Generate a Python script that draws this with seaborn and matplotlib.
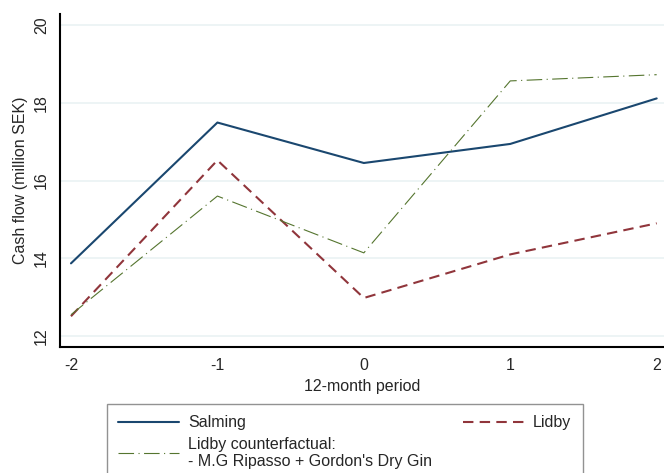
import matplotlib
matplotlib.use("Agg")
import matplotlib.pyplot as plt
import pandas as pd
import seaborn as sns

# Data
periods = [-2, -1, 0, 1, 2]
salming = [13.87, 17.49, 16.45, 16.94, 18.11]
lidby = [12.51, 16.52, 12.98, 14.10, 14.90]
counterfactual = [12.55, 15.60, 14.14, 18.56, 18.72]

series_names = ["Salming", "Lidby",
                "Lidby counterfactual:\n- M.G Ripasso + Gordon's Dry Gin"]
y_ticks = [12, 14, 16, 18, 20]

sns.set_style("white")
plt.rcParams["font.family"] = ["Liberation Sans", "DejaVu Sans"]
plt.rcParams["font.size"] = 11.5

df = pd.DataFrame({"period": periods * 3,
                   "value": salming + lidby + counterfactual,
                   "series": [series_names[0]] * 5 + [series_names[1]] * 5 + [series_names[2]] * 5})

fig = plt.figure(figsize=(6.64, 4.73), dpi=100)
ax = fig.add_axes([60 / 664, 1 - 347 / 473, 604 / 664, 333 / 473])

styles = {
    series_names[0]: dict(color="#1a476f", linewidth=1.5, linestyle="-"),
    series_names[1]: dict(color="#90353b", linewidth=1.5, linestyle=(0, (5, 3))),
    series_names[2]: dict(color="#55752f", linewidth=0.8, linestyle=(0, (14, 4, 1, 4))),
}
for name in series_names:
    sns.lineplot(data=df[df["series"] == name], x="period", y="value",
                 ax=ax, label=name, **styles[name])

ax.set_xlim(-2.075, 2.05)
ax.set_ylim(11.72, 20.28)
ax.set_xticks(periods)
ax.set_xticklabels([str(p) for p in periods])
ax.set_yticks(y_ticks)
ax.set_yticklabels([str(t) for t in y_ticks], rotation=90, va="center")
ax.grid(axis="y", color="#eaf2f3", linewidth=1.2)
ax.set_axisbelow(True)
ax.set_xlabel("12-month period")
ax.set_ylabel("Cash flow (million SEK)")
ax.tick_params(axis="both", direction="out", length=5, width=1.2,
               color="black", labelsize=11.5, pad=3)
for side in ["top", "right"]:
    ax.spines[side].set_visible(False)
for side in ["left", "bottom"]:
    ax.spines[side].set_color("black")
    ax.spines[side].set_linewidth(1.5)

# legend: Salming + counterfactual in column 1, Lidby in column 2
handles, labels = ax.get_legend_handles_labels()
ax.get_legend().remove()
order = [0, 2, 1]
leg = fig.legend([handles[i] for i in order], [labels[i] for i in order],
                 ncol=2, loc="upper left", bbox_to_anchor=(107 / 664, 1 - 404 / 473),
                 borderaxespad=0, frameon=True, fancybox=False, edgecolor="#777777",
                 handlelength=3.8, handletextpad=0.6, columnspacing=1.9,
                 borderpad=0.7, labelspacing=0.4, fontsize=11.5)
leg.get_frame().set_linewidth(1.0)

fig.savefig("out.png", dpi=100)
